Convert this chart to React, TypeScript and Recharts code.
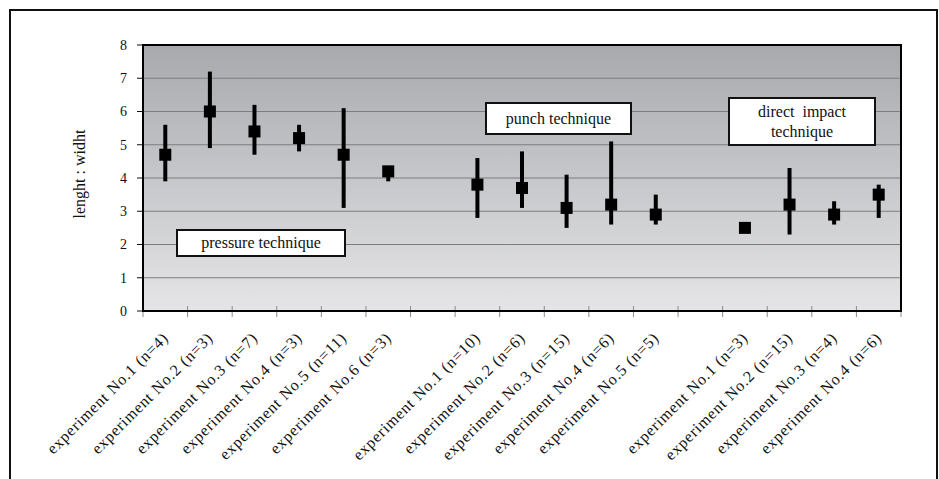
import { ComposedChart, Line, XAxis, YAxis, CartesianGrid, ErrorBar } from 'recharts'

// categories (empty string = gap between technique groups)
const labels = [
  'experiment No.1 (n=4)', 'experiment No.2 (n=3)', 'experiment No.3 (n=7)',
  'experiment No.4 (n=3)', 'experiment No.5 (n=11)', 'experiment No.6 (n=3)',
  '',
  'experiment No.1 (n=10)', 'experiment No.2 (n=6)', 'experiment No.3 (n=15)',
  'experiment No.4 (n=6)', 'experiment No.5 (n=5)',
  '',
  'experiment No.1 (n=3)', 'experiment No.2 (n=15)', 'experiment No.3 (n=4)',
  'experiment No.4 (n=6)',
]

// mean ratio per experiment
const means = [4.7, 6.0, 5.4, 5.2, 4.7, 4.2, null, 3.8, 3.7, 3.1, 3.2, 2.9, null, 2.5, 3.2, 2.9, 3.5]
// min / max of each experiment
const lows = [3.9, 4.9, 4.7, 4.8, 3.1, 3.9, null, 2.8, 3.1, 2.5, 2.6, 2.6, null, null, 2.3, 2.6, 2.8]
const highs = [5.6, 7.2, 6.2, 5.6, 6.1, 4.35, null, 4.6, 4.8, 4.1, 5.1, 3.5, null, null, 4.3, 3.3, 3.8]

const yTicks = [0, 1, 2, 3, 4, 5, 6, 7, 8]

const data = labels.map((label, i) => ({
  id: i,
  label,
  mean: means[i],
  err: means[i] != null && lows[i] != null && highs[i] != null
    ? [+(means[i]! - lows[i]!).toFixed(2), +(highs[i]! - means[i]!).toFixed(2)]
    : undefined,
}))

const W = 939
const H = 479
const PLOT_L = 143
const PLOT_R = 901
const PLOT_T = 45
const PLOT_B = 311
const BAND = (PLOT_R - PLOT_L) / labels.length
const FONT = "'Liberation Serif', serif"

function XTick(props: any) {
  const { x, y, payload, index } = props
  const lbl = labels[payload.value]
  const half = BAND / 2
  const px = x + 4
  const py = y + 28
  return (
    <g>
      <line x1={x - half} x2={x - half} y1={y - 5} y2={y + 6} stroke="#8a8a8a" strokeWidth={1} />
      {index === labels.length - 1 && (
        <line x1={x + half} x2={x + half} y1={y - 5} y2={y + 6} stroke="#8a8a8a" strokeWidth={1} />
      )}
      {lbl && (
        <text x={px} y={py} transform={`rotate(-45, ${px}, ${py})`} textAnchor="end"
          fontSize={16} letterSpacing={0.8} fontFamily={FONT} fill="#111">
          {lbl}
        </text>
      )}
    </g>
  )
}

function SquareDot(props: any) {
  const { cx, cy, index } = props
  if (cx == null || cy == null || means[index] == null) return <g key={index} />
  return <rect key={index} x={cx - 6} y={cy - 6} width={12} height={12} fill="#000" />
}

const boxStyle: React.CSSProperties = {
  position: 'absolute',
  background: '#fff',
  border: '2px solid #111',
  boxSizing: 'border-box',
  fontFamily: FONT,
  fontSize: 16,
  color: '#111',
  display: 'flex',
  alignItems: 'center',
  justifyContent: 'center',
  textAlign: 'center',
  lineHeight: '20px',
}

export default function App() {
  return (
    <div style={{ position: 'absolute', left: 0, top: 0, width: W, height: H, overflow: 'hidden', background: '#fff' }}>
      <div style={{
        position: 'absolute', left: 9, top: 9, width: 929, height: H - 9,
        border: '2.5px solid #111', borderBottom: 'none', boxSizing: 'border-box',
      }} />
      <ComposedChart
        width={W}
        height={H}
        data={data}
        margin={{ top: PLOT_T, right: W - PLOT_R, left: PLOT_L - 40, bottom: H - PLOT_B - 130 }}
        style={{ position: 'absolute', left: 0, top: 0 }}
      >
        <defs>
          <linearGradient id="plotBg" gradientUnits="userSpaceOnUse" x1="0" y1={PLOT_T} x2="0" y2={PLOT_B}>
            <stop offset="0%" stopColor="#a7a9ad" />
            <stop offset="100%" stopColor="#e5e5e7" />
          </linearGradient>
        </defs>
        <CartesianGrid vertical={false} fill="url(#plotBg)" fillOpacity={1} stroke="#7d7d7d" strokeWidth={1} />
        <XAxis
          dataKey="id"
          type="category"
          scale="band"
          interval={0}
          height={130}
          tickSize={0}
          tickMargin={0}
          tickLine={false}
          tick={<XTick />}
          axisLine={{ stroke: '#000', strokeWidth: 2 }}
        />
        <YAxis
          domain={[0, 8]}
          ticks={yTicks}
          width={40}
          tickSize={6}
          tickMargin={10}
          tickLine={{ stroke: '#111' }}
          axisLine={{ stroke: '#000', strokeWidth: 2 }}
          tick={{ fontSize: 14, fontFamily: FONT, fill: '#111' }}
          label={{
            value: 'lenght : widht',
            angle: -90,
            position: 'insideLeft',
            offset: -24,
            dy: -4,
            style: { textAnchor: 'middle', fontSize: 16, fontFamily: FONT, fill: '#111' },
          }}
        />
        <Line
          dataKey="mean"
          stroke="none"
          isAnimationActive={false}
          dot={<SquareDot />}
          activeDot={false}
          connectNulls={false}
        >
          <ErrorBar dataKey="err" direction="y" width={0} stroke="#000" strokeWidth={4} />
        </Line>
      </ComposedChart>
      {/* plot frame */}
      <div style={{
        position: 'absolute', left: PLOT_L - 1, top: PLOT_T - 1, width: PLOT_R - PLOT_L + 2,
        height: PLOT_B - PLOT_T + 2, border: '2px solid #000', boxSizing: 'border-box', pointerEvents: 'none',
      }} />
      <div style={{ ...boxStyle, left: 176, top: 229, width: 170, height: 28 }}>pressure technique</div>
      <div style={{ ...boxStyle, left: 485, top: 102, width: 147, height: 33 }}>punch technique</div>
      <div style={{ ...boxStyle, left: 728, top: 97, width: 148, height: 49, flexDirection: 'column' }}>
        <div style={{ whiteSpace: 'pre' }}>direct  impact</div>
        <div>technique</div>
      </div>
    </div>
  )
}
